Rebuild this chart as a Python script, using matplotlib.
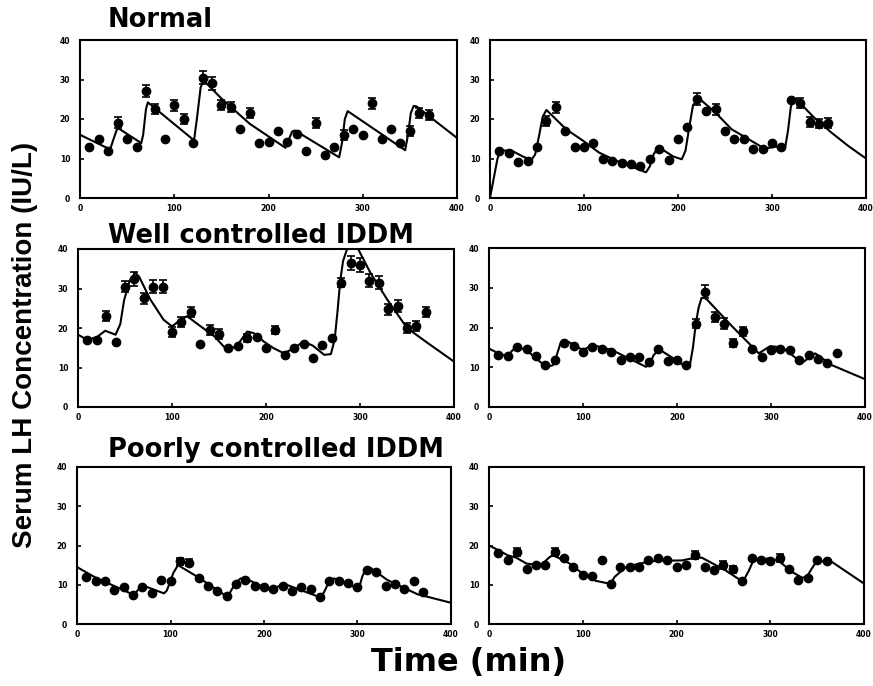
import matplotlib.pyplot as plt

# sampling times (min)
times_37 = [10, 20, 30, 40, 50, 60, 70, 80, 90, 100, 110, 120, 130, 140, 150, 160, 170, 180, 190,
            200, 210, 220, 230, 240, 250, 260, 270, 280, 290, 300, 310, 320, 330, 340, 350, 360, 370]
times_36 = times_37[:-1]

# Normal, subject A (top left)
normal_a = [13, 15, 12, 19, 15, 13, 27, 22.5, 15, 23.5, 20, 14, 30.5, 29, 23.5, 23, 17.5, 21.5, 14,
            14.3, 17, 14.3, 16.3, 12, 19, 11, 13, 16, 17.5, 16, 24, 15, 17.5, 14, 17, 21.5, 21]
normal_a_err = [0, 0, 0, 1.4, 0, 0, 1.5, 1.3, 0, 1.4, 1.2, 0, 1.7, 1.6, 1.3, 1.3, 0, 1.2, 0,
                0, 0, 0, 0, 0, 1.2, 0, 0, 1.2, 0, 0, 1.4, 0, 0, 0, 1.2, 1.2, 1.2]
normal_a_fit_t = [0, 32, 35, 39, 41, 65, 67, 70, 72, 121, 124, 128, 131, 150, 180, 218, 221, 225, 228,
                  275, 278, 281, 284, 345, 348, 351, 354, 357, 400]
normal_a_fit = [16, 12.3, 14.5, 17.3, 17.6, 13.9, 16, 22.5, 24.2, 14.6, 20, 28, 29.8, 25.2, 18.8, 12.7,
                14.5, 16.8, 17.1, 10.3, 14, 20, 22, 12.1, 16, 21.5, 23.3, 23.2, 15.2]

# Normal, subject B (top right)
normal_b = [12, 11.5, 9, 9.3, 12.8, 19.5, 23, 17, 13, 13, 14, 10, 9.3, 8.8, 8.5, 8, 10, 12.3, 9.5,
            15, 18, 25, 22, 22.5, 17, 15, 15, 12.5, 12.5, 13.8, 12.8, 24.8, 24, 19.2, 18.8, 19]
normal_b_err = [0, 0, 0, 0, 0, 1.3, 1.4, 0, 0, 0, 0, 0, 0, 0, 0, 0, 0, 0, 0,
                0, 0, 1.5, 0, 1.4, 0, 0, 0, 0, 0, 0, 0, 0, 1.2, 1.2, 1.2, 1.2]
normal_b_fit_t = [0, 4, 8, 11, 23, 35, 44, 48, 52, 56, 60, 81, 99, 116, 134, 152, 166, 170, 174, 178,
                  182, 195, 204, 208, 212, 216, 222, 240, 257, 275, 292, 304, 314, 317, 320, 323, 326,
                  345, 363, 381, 400]
normal_b_fit = [0, 5, 10, 12, 12, 10.5, 9.6, 11, 15.5, 20.5, 22.3, 17.4, 14.5, 11.5, 9.5, 7.8, 6.5, 8,
                11, 12.6, 12.5, 10.5, 9.8, 12, 18, 23.5, 25.3, 21.6, 17.4, 14.9, 12.5, 13, 12.8, 17,
                23, 25.4, 25, 20.3, 16.6, 13.2, 10]

# Well controlled IDDM, subject A (middle left)
well_a = [17, 17, 23, 16.5, 30.5, 32.5, 27.5, 30.5, 30.5, 19, 21.5, 24, 16, 19.5, 18.5, 15, 15.5,
          17.5, 17.7, 15, 19.5, 13.2, 15, 16, 12.3, 15.7, 17.4, 31.5, 36.5, 36, 32, 31.5, 24.7,
          25.5, 20, 20.5, 24]
well_a_err = [0, 0, 1.3, 0, 1.4, 1.8, 1.4, 1.6, 1.6, 1.2, 1.2, 1.2, 0, 1.2, 1.2, 0, 0, 1.0, 0, 0,
              1.0, 0, 0, 0, 0, 0, 0, 1.2, 1.8, 1.8, 1.6, 1.6, 1.4, 1.5, 1.2, 1.2, 1.2]
well_a_fit_t = [0, 10, 20, 29, 40, 45, 49, 55, 61, 65, 77, 91, 100, 106, 116, 130, 145, 159, 169, 180,
                187, 198, 208, 219, 230, 240, 250, 262, 269, 273, 276, 279, 282, 287, 293, 298, 311,
                329, 350, 372, 400]
well_a_fit = [18.3, 17, 17.7, 19.3, 18.3, 21, 27, 32, 34, 33, 27.2, 22.1, 20.4, 21.5, 23, 20.5, 17.9,
              14.3, 15.5, 19.1, 18.7, 16.5, 14.9, 13.6, 14.9, 16.6, 15.5, 13.2, 13.4, 17, 24, 32, 37,
              40.5, 41, 40, 34, 27.2, 20, 16.2, 11.5]

# Well controlled IDDM, subject B (middle right)
well_b = [13, 12.8, 15, 14.7, 12.8, 10.5, 11.8, 16.2, 15.3, 13.9, 15.2, 14.5, 13.9, 11.8, 12.6,
          12.6, 11.4, 14.7, 11.6, 11.8, 10.5, 21, 29, 22.7, 21, 16, 19, 14.7, 12.6, 14.3, 14.7,
          14.3, 11.8, 13, 12.2, 11, 13.6]
well_b_err = [0, 0, 0, 0, 0, 0, 0, 0, 0, 0, 0, 0, 0, 0, 0, 0, 0, 0, 0, 0, 0, 1.2, 1.6, 1.3, 1.3,
              1.0, 1.2, 0, 0, 0, 0, 0, 0, 0, 0, 0, 0]
well_b_fit_t = [0, 10, 19, 29, 40, 50, 61, 68, 72, 76, 79, 86, 100, 110, 131, 149, 167, 171, 175, 181,
                199, 209, 214, 217, 220, 223, 226, 229, 232, 259, 287, 299, 312, 333, 347, 365, 400]
well_b_fit = [14.7, 13.5, 12.8, 15.2, 14.3, 12.2, 10.1, 10.5, 13, 16, 16.8, 16.2, 14.3, 15.6, 14.3,
              12.2, 10.1, 10.8, 13, 14.5, 11.8, 10.1, 10.9, 15, 21, 25, 27.4, 27.5, 27, 20.2, 13.5,
              15.3, 15, 11.1, 13.5, 10.5, 7]

# Poorly controlled IDDM, subject A (bottom left)
poor_a = [12, 11, 11, 8.6, 9.5, 7.4, 9.3, 7.8, 11.3, 11, 16, 15.6, 11.8, 9.7, 8.4, 7.1, 10.1, 11.2,
          9.6, 9.5, 8.8, 9.6, 8.5, 9.3, 8.9, 6.9, 10.9, 10.9, 10.5, 9.5, 13.7, 13.3, 9.6, 10.3, 9,
          10.9, 8.2]
poor_a_err = [0] * 10 + [0.9, 0.9] + [0] * 25
poor_a_fit_t = [0, 20, 61, 68, 74, 93, 96, 99, 103, 108, 129, 161, 166, 171, 175, 180, 207, 218, 223,
                260, 264, 268, 271, 275, 298, 302, 305, 309, 314, 332, 364, 400]
poor_a_fit = [14.5, 11.8, 7.4, 9.5, 9.5, 7.8, 8.5, 10.3, 13, 15, 12, 6.9, 9, 10.8, 11.6, 11.6, 8.6,
              9.9, 10.1, 6.8, 8, 10, 11.3, 11.6, 9.3, 9.5, 12, 14.1, 14.3, 11.2, 7.6, 5.4]

# Poorly controlled IDDM, subject B (bottom right)
poor_b = [18, 16.4, 18.3, 14, 15.1, 15.1, 18.3, 16.7, 14.5, 12.6, 12.2, 16.4, 10.3, 14.5, 14.5,
          14.5, 16.2, 16.9, 16.2, 14.5, 15.1, 17.5, 14.4, 13.7, 15, 13.9, 10.9, 16.7, 16.2, 16.1,
          16.9, 13.9, 11.2, 11.6, 16.4, 16.1]
poor_b_err = [0, 0, 1.0, 0, 0, 0, 1.0, 0, 0, 0, 0, 0, 0, 0, 0, 0, 0, 0, 0, 0, 0, 1.0, 0, 0, 1.0,
              1.0, 0, 0, 0, 0, 1.0, 0, 0, 0, 0, 0]
poor_b_fit_t = [0, 10, 20, 29, 40, 54, 60, 64, 68, 86, 100, 114, 128, 131, 134, 146, 160, 178, 206,
                220, 227, 252, 268, 272, 277, 282, 298, 309, 323, 334, 339, 344, 349, 364, 400]
poor_b_fit = [20, 18.8, 17.5, 16.9, 15.4, 15, 16, 16.9, 17.6, 15.4, 12.8, 11, 10.3, 10.8, 12, 14.5,
              15.4, 16.1, 16.2, 16.9, 16.9, 13.7, 11.2, 11.3, 13.5, 16.2, 16.7, 16.1, 13.3, 11.8,
              12, 14, 15.8, 16.1, 10.3]

W, H = 873, 686
fig = plt.figure(figsize=(W / 100, H / 100), dpi=100)


def add_panel(x0, x1, y0, y1):
    # axes given in pixel coordinates of the 873x686 picture
    return fig.add_axes([x0 / W, 1 - y1 / H, (x1 - x0) / W, (y1 - y0) / H])


def draw_panel(ax, t, y, err, fit_t, fit):
    ax.plot(fit_t, fit, color='black', lw=1.5, zorder=2)
    ax.plot(t, y, 'o', color='black', ms=6, zorder=3)
    et = [a for a, e in zip(t, err) if e > 0]
    ey = [b for b, e in zip(y, err) if e > 0]
    ee = [e for e in err if e > 0]
    if ee:
        ax.errorbar(et, ey, yerr=ee, fmt='none', ecolor='black', elinewidth=1.2,
                    capsize=2.8, capthick=1.2, zorder=3)
    ax.set_xlim(0, 400)
    ax.set_ylim(0, 40)
    ax.set_xticks([0, 100, 200, 300, 400])
    ax.set_yticks([0, 10, 20, 30, 40])
    ax.tick_params(axis='both', direction='in', length=3, width=1.2, labelsize=5.5)
    ax.tick_params(axis='y', pad=7)
    ax.tick_params(axis='x', pad=4)
    for lab in ax.get_xticklabels() + ax.get_yticklabels():
        lab.set_fontweight('heavy')
    for s in ax.spines.values():
        s.set_linewidth(1.5)


panels = [
    ((80, 457, 40, 198), times_37, normal_a, normal_a_err, normal_a_fit_t, normal_a_fit),
    ((490, 866, 40, 198), times_36, normal_b, normal_b_err, normal_b_fit_t, normal_b_fit),
    ((78, 454, 249, 407), times_37, well_a, well_a_err, well_a_fit_t, well_a_fit),
    ((489, 865, 248, 407), times_37, well_b, well_b_err, well_b_fit_t, well_b_fit),
    ((77, 451, 467, 624), times_37, poor_a, poor_a_err, poor_a_fit_t, poor_a_fit),
    ((489, 864, 467, 624), times_36, poor_b, poor_b_err, poor_b_fit_t, poor_b_fit),
]

for box, t, y, err, ft, fy in panels:
    ax = add_panel(*box)
    draw_panel(ax, t, y, err, ft, fy)

# group titles
title_kw = dict(fontsize=18.5, fontweight='bold', ha='left', va='baseline')
fig.text(108 / W, 1 - 27 / H, 'Normal', **title_kw)
fig.text(108 / W, 1 - 243 / H, 'Well controlled IDDM', **title_kw)
fig.text(108 / W, 1 - 457 / H, 'Poorly controlled IDDM', **title_kw)

fig.text(25 / W, 1 - 345 / H, 'Serum LH Concentration (IU/L)', rotation=90,
         ha='center', va='center', fontsize=20, fontweight='bold',
         family='Liberation Sans')
fig.text(469 / W, 1 - 663 / H, 'Time (min)', ha='center', va='center',
         fontsize=23, fontweight='bold')

fig.savefig('out.png', dpi=100)
